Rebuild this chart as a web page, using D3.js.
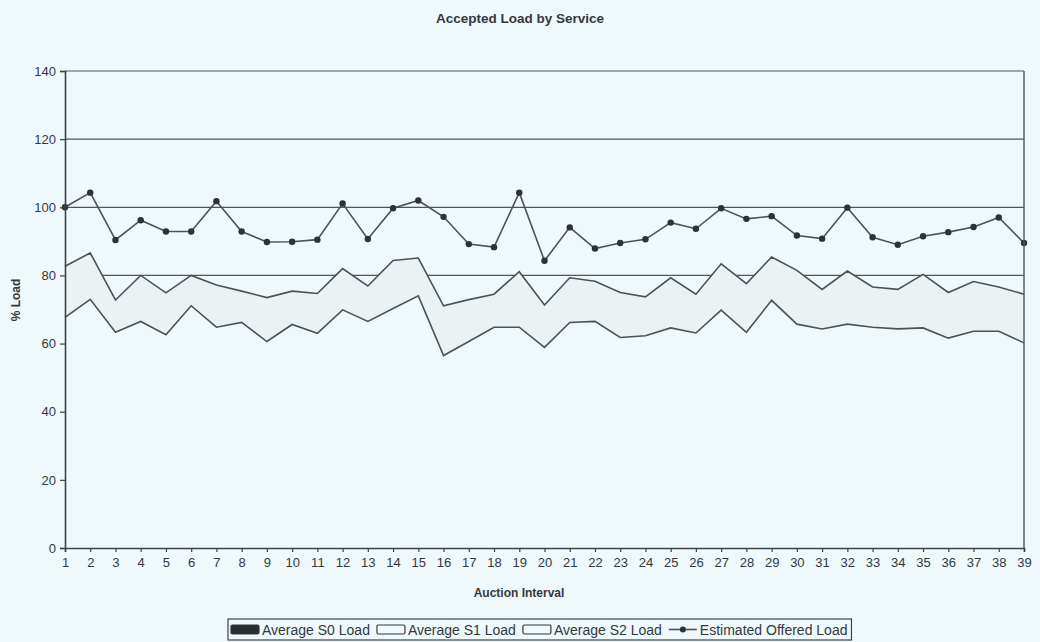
<!DOCTYPE html>
<html>
<head>
<meta charset="utf-8">
<script src="https://cdn.jsdelivr.net/npm/d3@7"></script>
<style>
  html, body { margin: 0; padding: 0; background: #eff8fb; }
  svg { display: block; }
  text { font-family: "Liberation Sans", Arial, sans-serif; fill: #33383d; }
</style>
</head>
<body>
<svg id="chart" width="1040" height="642"></svg>
<script>
// Auction intervals (category axis)
const intervals = [1,2,3,4,5,6,7,8,9,10,11,12,13,14,15,16,17,18,19,20,
  21,22,23,24,25,26,27,28,29,30,31,32,33,34,35,36,37,38,39];

// Average accepted load per service class (%), stacked
const s0Load = [0,0,0,0,0,0,0,0,0,0,0,0,0,0,0,0,0,0,0,0,
  0,0,0,0,0,0,0,0,0,0,0,0,0,0,0,0,0,0,0];
const s1Load = [67.7,73.0,63.3,66.5,62.6,71.1,64.8,66.2,60.6,65.6,63.0,69.9,66.5,70.3,74.0,56.5,60.6,64.8,64.8,58.9,
  66.2,66.5,61.8,62.3,64.6,63.1,69.8,63.3,72.7,65.7,64.3,65.7,64.8,64.3,64.6,61.6,63.6,63.6,60.2];
const s2Load = [15.0,13.6,9.5,13.5,12.3,8.9,12.4,9.2,12.9,9.8,11.7,12.1,10.4,14.1,11.1,14.6,12.3,9.7,16.3,12.4,
  13.1,11.8,13.2,11.4,14.7,11.4,13.6,14.3,12.7,15.8,11.6,15.6,11.8,11.6,15.7,13.4,14.6,13.0,14.3];

// Estimated offered load (%)
const offeredLoad = [100,104.3,90.4,96.2,92.9,92.9,101.8,92.9,89.8,89.9,90.5,101.1,90.7,99.7,102,97.2,89.2,88.3,104.3,84.3,
  94.1,87.9,89.5,90.6,95.5,93.7,99.7,96.6,97.4,91.7,90.8,99.9,91.2,89.0,91.5,92.7,94.2,97.0,89.5];

const yTicks = [0,20,40,60,80,100,120,140];

const seriesNames = ["Average S0 Load","Average S1 Load","Average S2 Load","Estimated Offered Load"];

const bg = "#eff8fb";
const ink = "#4d5257";

const svg = d3.select("#chart");
const plot = { left: 65, right: 1024, top: 71, bottom: 548 };

const x = d3.scalePoint().domain(intervals).range([plot.left, plot.right]);
const y = d3.scaleLinear().domain([0, 140]).range([plot.bottom, plot.top]);

// Title
svg.append("text")
  .attr("x", 520).attr("y", 23)
  .attr("text-anchor", "middle")
  .style("font-size", "13.5px").style("font-weight", "bold")
  .text("Accepted Load by Service");

// Horizontal gridlines (under the areas)
svg.append("g").selectAll("line")
  .data(yTicks.filter(d => d > 0))
  .join("line")
  .attr("x1", plot.left).attr("x2", plot.right)
  .attr("y1", d => y(d)).attr("y2", d => y(d))
  .attr("stroke", "#50555a").attr("stroke-width", 1.2);

// Stacked areas
const rows = intervals.map((k, i) => ({ k, s0: s0Load[i], s1: s1Load[i], s2: s2Load[i] }));
const stacked = d3.stack().keys(["s0", "s1", "s2"])(rows);
const fills = ["#2b2e31", bg, "#ebf2f4"];

const area = d3.area()
  .x(d => x(d.data.k))
  .y0(d => y(d[0]))
  .y1(d => y(d[1]));
const topLine = d3.line()
  .x(d => x(d.data.k))
  .y(d => y(d[1]));

const layers = svg.append("g");
stacked.forEach((layer, i) => {
  layers.append("path").datum(layer)
    .attr("d", area).attr("fill", fills[i]).attr("stroke", "none");
});
stacked.forEach((layer, i) => {
  if (i === 0) return;
  layers.append("path").datum(layer)
    .attr("d", topLine).attr("fill", "none")
    .attr("stroke", ink).attr("stroke-width", 1.6)
    .attr("stroke-linejoin", "miter");
});

// Estimated offered load line with markers
const offered = intervals.map((k, i) => ({ k, v: offeredLoad[i] }));
svg.append("path").datum(offered)
  .attr("d", d3.line().x(d => x(d.k)).y(d => y(d.v)))
  .attr("fill", "none").attr("stroke", ink).attr("stroke-width", 1.6);
svg.append("g").selectAll("circle")
  .data(offered)
  .join("circle")
  .attr("cx", d => x(d.k)).attr("cy", d => y(d.v))
  .attr("r", 3.2)
  .attr("fill", "#2e3236");

// Plot border (right side)
svg.append("line")
  .attr("x1", plot.right).attr("x2", plot.right)
  .attr("y1", plot.top).attr("y2", plot.bottom)
  .attr("stroke", "#50555a").attr("stroke-width", 1.4);

// Axes
const yAxis = svg.append("g")
  .attr("transform", `translate(${plot.left},0)`)
  .call(d3.axisLeft(y).tickValues(yTicks).tickSize(5).tickPadding(4).tickFormat(d3.format("d")));
const xAxis = svg.append("g")
  .attr("transform", `translate(0,${plot.bottom})`)
  .call(d3.axisBottom(x).tickSize(4).tickPadding(6));
[yAxis, xAxis].forEach(g => {
  g.select(".domain").attr("stroke", "#3e4348").attr("stroke-width", 1.6);
  g.selectAll(".tick line").attr("stroke", "#3e4348").attr("stroke-width", 1.2);
  g.selectAll(".tick text").style("font-size", "13px")
    .style("font-family", "'Liberation Sans', Arial, sans-serif").attr("fill", "#33383d");
});

// Axis titles
svg.append("text")
  .attr("transform", "translate(20,300) rotate(-90)")
  .attr("text-anchor", "middle")
  .style("font-size", "12px").style("font-weight", "bold")
  .text("% Load");
svg.append("text")
  .attr("x", 519).attr("y", 597)
  .attr("text-anchor", "middle")
  .style("font-size", "12px").style("font-weight", "bold")
  .text("Auction Interval");

// Legend
const legend = svg.append("g");
const legendBox = legend.append("rect")
  .attr("y", 619).attr("height", 21)
  .attr("fill", bg).attr("stroke", "#3e4348").attr("stroke-width", 1.2);
const legendLeft = 228;
let cx = legendLeft + 3;
const midY = 629.5;
const keyW = 28;
seriesNames.forEach((name, i) => {
  if (i < 3) {
    legend.append("rect")
      .attr("x", cx).attr("y", midY - 4.5).attr("width", keyW).attr("height", 9)
      .attr("rx", 1.5)
      .attr("fill", i === 0 ? "#2b2e31" : bg)
      .attr("stroke", "#33383d").attr("stroke-width", 1.2);
  } else {
    legend.append("line")
      .attr("x1", cx).attr("x2", cx + keyW).attr("y1", midY).attr("y2", midY)
      .attr("stroke", ink).attr("stroke-width", 1.6);
    legend.append("circle")
      .attr("cx", cx + keyW / 2).attr("cy", midY).attr("r", 3)
      .attr("fill", "#2e3236");
  }
  const t = legend.append("text")
    .attr("x", cx + keyW + 3).attr("y", midY + 5)
    .style("font-size", "14px")
    .text(name);
  cx += keyW + 3 + t.node().getComputedTextLength() + 7;
});
legendBox.attr("x", legendLeft).attr("width", cx - legendLeft - 3);
</script>
</body>
</html>
